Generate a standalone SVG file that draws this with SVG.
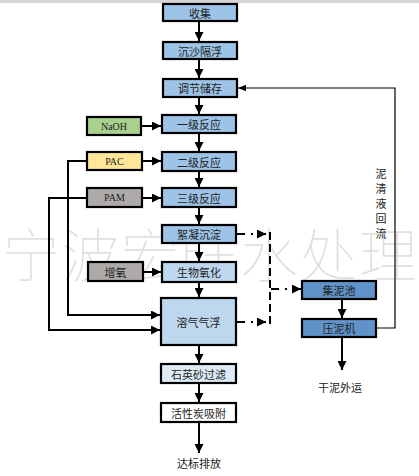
<svg xmlns="http://www.w3.org/2000/svg" width="419" height="476" viewBox="0 0 419 476">
<style>
.box{stroke:#000;stroke-width:2.2}
.b1{fill:#9dc3e6}
.b2{fill:#bdd7ee}
.b3{fill:#deebf7}
.b4{fill:#fff}
.b5{fill:#5f93c9}
.lbl{font-family:"Noto Sans CJK SC","Noto Sans",sans-serif;font-size:11px;fill:#222;text-anchor:middle;dominant-baseline:central}
.en{font-family:"Liberation Serif",serif;font-size:10px;fill:#222;text-anchor:middle;dominant-baseline:central}
.ln{stroke:#000;stroke-width:2;fill:none}
.thin{stroke:#000;stroke-width:1.2;fill:none}
.dd{stroke:#000;stroke-width:2;fill:none;stroke-dasharray:8,6,2,6}
.dash{stroke:#000;stroke-width:2;fill:none;stroke-dasharray:8,4}
.wm{font-family:"Noto Sans CJK SC",sans-serif;font-weight:100;font-size:58px;fill:#e0e0e0}
</style>
<defs>
<marker id="ah" viewBox="0 0 10 10" refX="10" refY="5" markerWidth="4.5" markerHeight="4.5" orient="auto" markerUnits="strokeWidth">
<path d="M0,0 L10,5 L0,10 z" fill="#000"/>
</marker>
<marker id="ah2" viewBox="0 0 10 10" refX="10" refY="5" markerWidth="7" markerHeight="7" orient="auto" markerUnits="strokeWidth">
<path d="M0,1 L10,5 L0,9 z" fill="#000"/>
</marker>
</defs>
<rect x="0" y="0" width="419" height="476" fill="#fff"/>
<rect x="0" y="0" width="419" height="3" fill="#d6d6d6"/>
<text class="wm" x="2" y="277" textLength="415" lengthAdjust="spacing">宁波宏旺水处理</text>

<g id="connectors">
<line class="ln" x1="199" y1="21" x2="199" y2="41" marker-end="url(#ah)"/>
<line class="ln" x1="199" y1="59" x2="199" y2="78" marker-end="url(#ah)"/>
<line class="ln" x1="199" y1="97" x2="199" y2="114" marker-end="url(#ah)"/>
<line class="ln" x1="199" y1="133" x2="199" y2="151" marker-end="url(#ah)"/>
<line class="ln" x1="199" y1="171" x2="199" y2="187" marker-end="url(#ah)"/>
<line class="ln" x1="199" y1="207" x2="199" y2="224" marker-end="url(#ah)"/>
<line class="ln" x1="199" y1="243" x2="199" y2="261" marker-end="url(#ah)"/>
<line class="ln" x1="199" y1="282" x2="199" y2="297" marker-end="url(#ah)"/>
<line class="ln" x1="199" y1="345" x2="199" y2="363" marker-end="url(#ah)"/>
<line class="ln" x1="199" y1="383" x2="199" y2="402" marker-end="url(#ah)"/>
<line class="ln" x1="199" y1="422" x2="199" y2="453" marker-end="url(#ah)"/>
<line class="ln" x1="142" y1="126" x2="161" y2="126" marker-end="url(#ah)"/>
<line class="ln" x1="142" y1="161" x2="161" y2="161" marker-end="url(#ah)"/>
<line class="ln" x1="142" y1="198" x2="161" y2="198" marker-end="url(#ah)"/>
<line class="ln" x1="143" y1="272" x2="161" y2="272" marker-end="url(#ah)"/>
<polyline class="ln" points="87,161 68,161 68,315 160,315" marker-end="url(#ah)"/>
<polyline class="ln" points="87,198 49,198 49,330 160,330" marker-end="url(#ah)"/>
<line class="dd" x1="237" y1="234" x2="266" y2="234" marker-end="url(#ah)"/>
<line class="dd" x1="237" y1="322" x2="266" y2="322" marker-end="url(#ah)"/>
<line class="dash" x1="270" y1="232" x2="270" y2="324"/>
<line class="dd" x1="271" y1="289" x2="301" y2="289" marker-end="url(#ah)"/>
<line class="ln" x1="342" y1="299" x2="342" y2="318" marker-end="url(#ah)"/>
<line class="ln" x1="342" y1="337" x2="342" y2="370" marker-end="url(#ah)"/>
<polyline class="thin" points="376,328 395,328 395,88 238,88" marker-end="url(#ah2)"/>
</g>

<g id="n-shouji"><rect class="box b1" x="163" y="4" width="74" height="17"/><text class="lbl" x="200" y="12.5">收集</text></g>
<g id="n-chensha"><rect class="box b1" x="163" y="42" width="74" height="17"/><text class="lbl" x="200" y="50.5">沉沙隔浮</text></g>
<g id="n-tiaojie"><rect class="box b1" x="163" y="79" width="74" height="18"/><text class="lbl" x="200" y="88">调节储存</text></g>
<g id="n-yiji"><rect class="box b1" x="162" y="115" width="74" height="18"/><text class="lbl" x="199" y="124">一级反应</text></g>
<g id="n-erji"><rect class="box b1" x="162" y="152" width="74" height="19"/><text class="lbl" x="199" y="161.5">二级反应</text></g>
<g id="n-sanji"><rect class="box b1" x="162" y="188" width="74" height="19"/><text class="lbl" x="199" y="197.5">三级反应</text></g>
<g id="n-xuning"><rect class="box b1" x="162" y="225" width="74" height="18"/><text class="lbl" x="199" y="234">絮凝沉淀</text></g>
<g id="n-shengwu"><rect class="box b2" x="162" y="262" width="74" height="20"/><text class="lbl" x="199" y="272">生物氧化</text></g>
<g id="n-rongqi"><rect class="box b2" x="161" y="298" width="75" height="47"/><text class="lbl" x="198.5" y="321.5">溶气气浮</text></g>
<g id="n-shiying"><rect class="box b3" x="161" y="364" width="75" height="19"/><text class="lbl" x="198.5" y="373.5">石英砂过滤</text></g>
<g id="n-huoxing"><rect class="box b4" x="161" y="403" width="75" height="19"/><text class="lbl" x="198.5" y="412.5">活性炭吸附</text></g>
<g id="n-dabiao"><text class="lbl" x="199" y="463">达标排放</text></g>

<g id="n-naoh"><rect class="box" fill="#a9d18e" x="87" y="117" width="54" height="18"/><text class="en" x="114" y="126">NaOH</text></g>
<g id="n-pac"><rect class="box" fill="#ffe699" x="87" y="152" width="55" height="18"/><text class="en" x="114.5" y="161">PAC</text></g>
<g id="n-pam"><rect class="box" fill="#aeaaaa" x="87" y="188" width="55" height="19"/><text class="en" x="114.5" y="197.5">PAM</text></g>
<g id="n-zengyang"><rect class="box" fill="#aeaaaa" x="88" y="262" width="55" height="19"/><text class="lbl" x="115.5" y="271.5">增氧</text></g>

<g id="n-jini"><rect class="box b5" x="302" y="281" width="74" height="18"/><text class="lbl" x="339" y="290">集泥池</text></g>
<g id="n-yani"><rect class="box b5" x="302" y="319" width="74" height="18"/><text class="lbl" x="339" y="328">压泥机</text></g>
<g id="n-ganni"><text class="lbl" x="340" y="387">干泥外运</text></g>
<g id="n-huiliu">
<text class="lbl" x="381" y="173">泥</text>
<text class="lbl" x="381" y="188">清</text>
<text class="lbl" x="381" y="203">液</text>
<text class="lbl" x="381" y="218">回</text>
<text class="lbl" x="381" y="233">流</text>
</g>
</svg>
